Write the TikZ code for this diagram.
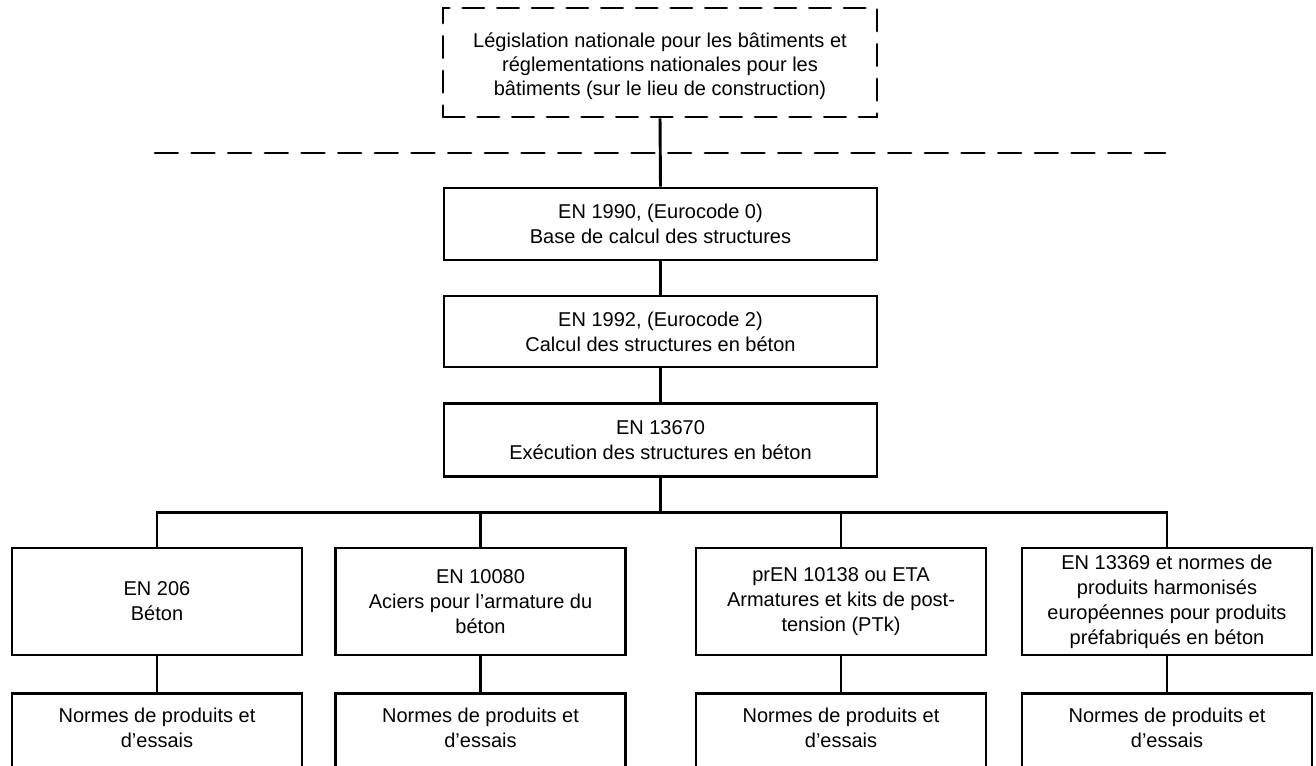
\documentclass[tikz,border=0pt]{standalone}
\usepackage{fontspec}
\setmainfont{Liberation Sans}
\begin{document}
\begin{tikzpicture}[x=0.75pt,y=-0.75pt,
  every node/.style={font=\fontsize{15}{18.75}\selectfont, align=center, inner sep=0pt},
  box/.style={draw, line width=2.2pt},
  dashbox/.style={draw, line width=2.2pt, dash pattern=on 16pt off 10pt, line cap=round},
  conn/.style={line width=2.2pt},
  dashline/.style={line width=2.2pt, dash pattern=on 17pt off 10.5pt, line cap=round}]
\useasboundingbox (0,0) rectangle (1316,765);
% top dashed box
\node[dashbox, minimum width=325.5pt, minimum height=81.75pt] (nat) at (660,62.5) {};
\node[font=\fontsize{15}{18}\selectfont] (natt) at (660,66)
  {Législation nationale pour les bâtiments et\\réglementations nationales pour les\\bâtiments (sur le lieu de construction)};
\coordinate (dl) at (155,153);
\coordinate (dr) at (1165,153);
\draw[dashline] (dl) -- (dr);
% chain
\node[box, minimum width=324.75pt, minimum height=54pt] (b0) at (660.5,224) {EN 1990, (Eurocode 0)\\Base de calcul des structures};
\node[box, minimum width=324.75pt, minimum height=53.25pt] (b1) at (660.5,331.5) {EN 1992, (Eurocode 2)\\Calcul des structures en béton};
\node[box, minimum width=324.75pt, minimum height=54.75pt] (b2) at (660.5,440) {EN 13670\\Exécution des structures en béton};
\draw[conn] (nat.south) -- (b0.north);
\draw[conn] (b0.south) -- (b1.north);
\draw[conn] (b1.south) -- (b2.north);
% children
\tikzset{child/.style={box, minimum width=217.5pt, minimum height=80.25pt}}
\node[child] (c1) at (157,601.5) {EN 206\\Béton};
\node[child] (c2) at (480.5,601.5) {EN 10080\\Aciers pour l’armature du\\béton};
\node[child] (c3) at (841,601.5) {prEN 10138 ou ETA\\Armatures et kits de post-\\tension (PTk)};
\node[child] (c4) at (1167,601.5) {EN 13369 et normes de\\produits harmonisés\\européennes pour produits\\préfabriqués en béton};
\coordinate (bus) at (660.5,512.5);
\draw[conn] (b2.south) -- (bus);
\draw[conn, line join=miter] (c1.north) -- (c1.north |- bus) -- (c4.north |- bus) -- (c4.north);
\draw[conn] (c2.north) -- (c2.north |- bus);
\draw[conn] (c3.north) -- (c3.north |- bus);
% bottom boxes (cut by the page edge)
\foreach \n/\x in {1/157, 2/480.5, 3/841, 4/1167}{
  \node[box, anchor=north, minimum width=217.5pt, minimum height=96pt] (d\n) at (\x,692) {};
  \node (t\n) at (\x,728) {Normes de produits et\\d’essais};
  \draw[conn] (c\n.south) -- (d\n.north);
}
\end{tikzpicture}
\end{document}
